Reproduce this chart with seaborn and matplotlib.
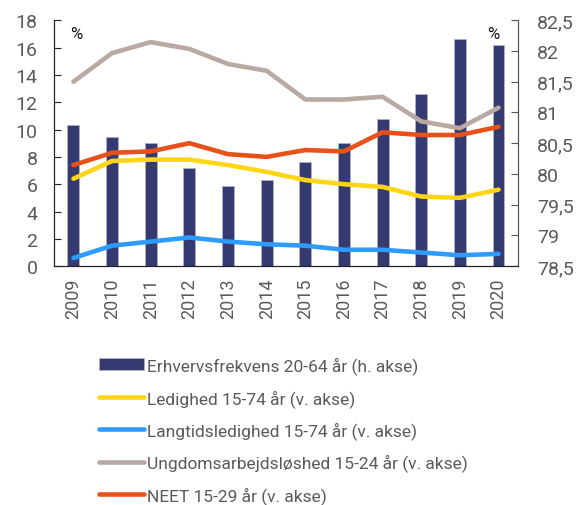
import numpy as np
import pandas as pd
import matplotlib
matplotlib.use("Agg")
import matplotlib.pyplot as plt
import matplotlib.ticker as mticker
import seaborn as sns

# data
years = list(range(2009, 2021))
erhverv = [80.8, 80.6, 80.5, 80.1, 79.8, 79.9, 80.2, 80.5, 80.9, 81.3, 82.2, 82.1]
ledighed = [6.4, 7.7, 7.8, 7.8, 7.4, 6.9, 6.3, 6.0, 5.8, 5.1, 5.0, 5.6]
langtid = [0.6, 1.5, 1.8, 2.1, 1.8, 1.6, 1.5, 1.2, 1.2, 1.0, 0.8, 0.9]
ungdom = [13.5, 15.6, 16.4, 15.9, 14.8, 14.3, 12.2, 12.2, 12.4, 10.6, 10.1, 11.6]
neet = [7.4, 8.3, 8.4, 9.0, 8.2, 8.0, 8.5, 8.4, 9.8, 9.6, 9.6, 10.2]

labels = ["Erhvervsfrekvens 20-64 år (h. akse)", "Ledighed 15-74 år (v. akse)",
          "Langtidsledighed 15-74 år (v. akse)", "Ungdomsarbejdsløshed 15-24 år (v. akse)",
          "NEET 15-29 år (v. akse)"]
colors = ["#353a70", "#ffd617", "#2e9bff", "#b8aaa2", "#e8521a"]

sns.set_style("white")
plt.rcParams["font.family"] = ["Roboto", "DejaVu Sans"]
txt = "#5a5a5a"

fig = plt.figure(figsize=(5.76, 5.06), dpi=100)
ax = fig.add_axes([0.094, 0.472, 0.805, 0.486])

# bars on primary axis (right scale), lines on twin (left scale)
df_bar = pd.DataFrame({"year": years, "val": erhverv})
sns.barplot(data=df_bar, x="year", y="val", native_scale=True, width=0.31,
            color=colors[0], saturation=1, edgecolor="#aeb0c8", linewidth=0.6,
            ax=ax, label=labels[0])
if ax.legend_ is not None:
    ax.legend_.remove()

ax2 = ax.twinx()
series = [ledighed, langtid, ungdom, neet]
for s, lab, col in zip(series, labels[1:], colors[1:]):
    sns.lineplot(x=years, y=s, color=col, linewidth=3.3, ax=ax2, label=lab,
                 solid_capstyle="round")
ax2.legend_.remove()

# swap sides: bars' scale on the right, lines' scale on the left
ax.yaxis.tick_right()
ax2.yaxis.tick_left()
ax.set_ylim(78.5, 82.5)
ax.set_yticks(np.arange(78.5, 82.51, 0.5))
ax.yaxis.set_major_formatter(mticker.FuncFormatter(lambda v, p: f"{v:g}".replace(".", ",")))
ax2.set_ylim(0, 18)
ax2.set_yticks(range(0, 19, 2))

ax.set_xlim(2008.5, 2020.5)
ax.set_xticks(years)
ax.set_xticklabels([str(y) for y in years], rotation=90)
ax.set_xticks(np.arange(2008.5, 2020.6, 1), minor=True)
ax.tick_params(axis="x", which="major", length=0, labelsize=13, labelcolor=txt, pad=8)
ax.tick_params(axis="x", which="minor", length=5, direction="in", color="#222222", width=1)
ax.tick_params(axis="y", direction="in", length=5, labelsize=14, labelcolor=txt,
               color="#555555", pad=14)
ax2.tick_params(axis="y", direction="in", length=5, labelsize=14, labelcolor=txt,
                color="#222222", pad=12)
ax.set_xlabel("")
ax.set_ylabel("")
ax2.set_ylabel("")

for a in (ax, ax2):
    a.spines["top"].set_visible(False)
ax2.spines["left"].set_color("#222222")
ax2.spines["right"].set_color("#555555")
ax2.spines["bottom"].set_color("#222222")
ax.spines["bottom"].set_color("#222222")

ax2.text(0.035, 0.975, "%", transform=ax2.transAxes, fontsize=12, va="top", color="#111111")
ax2.text(0.96, 0.975, "%", transform=ax2.transAxes, fontsize=12, va="top", ha="right",
         color="#111111")

h1, l1 = ax.get_legend_handles_labels()
h2, l2 = ax2.get_legend_handles_labels()
leg = fig.legend(h1 + h2, l1 + l2, loc="upper left", bbox_to_anchor=(0.172, 0.294),
                 frameon=False, fontsize=12.5, handlelength=2.6, handletextpad=0.15,
                 labelspacing=0.84, borderpad=0, borderaxespad=0)
for t in leg.get_texts():
    t.set_color(txt)

fig.savefig("out.png", dpi=100)
